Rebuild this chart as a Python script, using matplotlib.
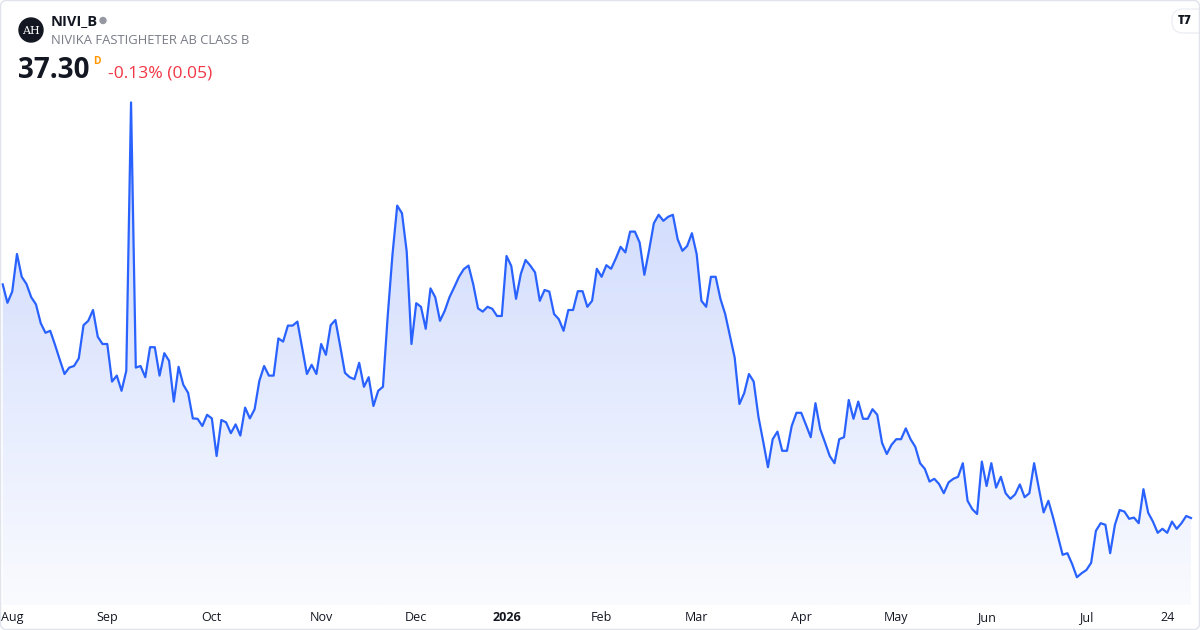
import numpy as np
import pandas as pd
import matplotlib
matplotlib.use('Agg')
import matplotlib.pyplot as plt
from matplotlib.colors import LinearSegmentedColormap
from matplotlib.patches import Polygon, FancyBboxPatch, Circle
from matplotlib.transforms import IdentityTransform, ScaledTranslation

plt.rcParams['font.family'] = ['Open Sans', 'DejaVu Sans']

ticker = 'NIVI_B'
company = 'NIVIKA FASTIGHETER AB CLASS B'
last_price = '37.30'
change_text = '-0.13% (0.05)'

# Stockholm exchange holidays in the window
holidays = ['2025-12-24', '2025-12-25', '2025-12-26', '2025-12-31', '2026-01-01',
            '2026-01-06', '2026-04-03', '2026-04-06', '2026-05-01', '2026-05-14',
            '2026-06-19']

# daily close (31 Jul 2025 .. 31 Jul 2026)
prices = [
    43.14, 42.68, 42.96, 43.90, 43.33, 43.15, 42.82, 42.64, 42.17, 41.93,
    41.98, 41.63, 41.26, 40.90, 41.06, 41.10, 41.29, 42.12, 42.23, 42.50,
    41.83, 41.65, 41.65, 40.71, 40.86, 40.48, 40.98, 47.69, 41.06, 41.10,
    40.82, 41.57, 41.57, 40.86, 41.42, 41.23, 40.21, 41.08, 40.63, 40.43,
    39.79, 39.78, 39.60, 39.88, 39.79, 38.85, 39.75, 39.69, 39.42, 39.64,
    39.36, 40.06, 39.79, 40.02, 40.73, 41.10, 40.86, 40.86, 41.79, 41.71,
    42.11, 42.11, 42.21, 41.55, 40.90, 41.13, 40.90, 41.65, 41.38, 42.12,
    42.25, 41.60, 40.93, 40.82, 40.77, 41.18, 40.58, 40.82, 40.10, 40.48,
    40.58, 42.35, 43.88, 45.11, 44.92, 43.96, 41.65, 42.67, 42.58, 42.03,
    43.04, 42.82, 42.23, 42.48, 42.82, 43.07, 43.33, 43.52, 43.61, 43.14,
    42.54, 42.46, 42.58, 42.53, 42.35, 42.35, 43.85, 43.60, 42.78, 43.40,
    43.75, 43.61, 43.44, 42.73, 43.00, 42.96, 42.40, 42.27, 41.98, 42.50,
    42.50, 42.97, 42.97, 42.58, 42.73, 43.53, 43.33, 43.62, 43.53, 43.79,
    44.08, 43.94, 44.46, 44.46, 44.19, 43.38, 44.00, 44.67, 44.88, 44.73,
    44.83, 44.88, 44.27, 43.98, 44.10, 44.42, 43.90, 42.73, 42.58, 43.33,
    43.33, 42.78, 42.40, 41.85, 41.31, 40.15, 40.42, 40.90, 40.71, 39.83,
    39.21, 38.57, 39.27, 39.46, 38.98, 38.98, 39.60, 39.93, 39.93, 39.63,
    39.32, 40.17, 39.52, 39.19, 38.85, 38.67, 39.27, 39.32, 40.25, 39.78,
    40.21, 39.78, 39.78, 40.02, 39.88, 39.18, 38.90, 39.13, 39.27, 39.27,
    39.54, 39.27, 39.08, 38.67, 38.53, 38.21, 38.28, 38.15, 37.92, 38.19,
    38.28, 38.33, 38.67, 37.73, 37.52, 37.40, 38.71, 38.10, 38.67, 38.06,
    38.33, 37.92, 37.78, 37.89, 38.14, 37.82, 37.92, 38.67, 38.04, 37.44,
    37.73, 37.31, 36.85, 36.38, 36.42, 36.15, 35.82, 35.92, 36.00, 36.18,
    36.98, 37.17, 37.13, 36.42, 37.13, 37.50, 37.46, 37.28, 37.31, 37.17,
    38.02, 37.43, 37.21, 36.93, 37.03, 36.93, 37.21, 37.03, 37.17, 37.35,
    37.30,
]

days = pd.bdate_range('2025-07-31', periods=len(prices), freq='C', holidays=holidays)
idx = np.arange(len(prices))

# ticks: first trading day of each month, plus 24 Jul
tick_pos = []
tick_lab = []
for i in range(1, len(days)):
    if days[i].month != days[i - 1].month:
        tick_pos.append(i)
        tick_lab.append(str(days[i].year) if days[i].month == 1 else days[i].strftime('%b'))
extra = list(days).index(pd.Timestamp('2026-07-24'))
tick_pos.append(extra)
tick_lab.append('24')

fig = plt.figure(figsize=(12, 6.3), dpi=100)
ax = fig.add_axes([0, 25 / 630, 1, 515 / 630])

ybot, ytop = 35.125, 48.0
xmin, xmax = -0.57, len(prices) - 1 + 1.9

# gradient area under the line
cmap = LinearSegmentedColormap.from_list('area', ['#fafbff', '#c8d5fd'])
grad = np.linspace(0, 1, 256).reshape(-1, 1)
im = ax.imshow(grad, extent=[xmin, xmax, ybot, max(prices)], origin='lower',
               aspect='auto', cmap=cmap, zorder=1)
verts = np.column_stack([idx, prices])
verts = np.vstack([[idx[0], ybot], verts, [idx[-1], ybot]])
clip = Polygon(verts, closed=True, facecolor='none', edgecolor='none')
ax.add_patch(clip)
im.set_clip_path(clip)

ax.plot(idx, prices, color='#2962ff', lw=1.6, zorder=3, solid_joinstyle='round')

ax.set_xlim(xmin, xmax)
ax.set_ylim(ybot, ytop)
for s in ax.spines.values():
    s.set_visible(False)
ax.set_yticks([])
ax.set_xticks(tick_pos)
ax.set_xticklabels(tick_lab)
ax.tick_params(axis='x', length=0, pad=4.5, labelsize=9, labelcolor='#131722')
for t in ax.get_xticklabels():
    if t.get_text() == '2026':
        t.set_fontweight('bold')
first = ax.get_xticklabels()[0]
first.set_horizontalalignment('left')
first.set_transform(first.get_transform() + ScaledTranslation(-6 / 100, 0, fig.dpi_scale_trans))

# header
ident = IdentityTransform()
H = 630


def px(x, y):
    return x / 1200, 1 - y / H


fig.add_artist(Circle((31, H - 30), 12, transform=ident, color='#131722', zorder=5))
fig.text(*px(31, 30.5), 'AH', color='white', fontsize=8, family='DejaVu Serif',
         ha='center', va='center', zorder=6)
fig.text(*px(51, 21), ticker, fontsize=10.5, fontweight='bold', color='#131722', va='center')
fig.add_artist(Circle((103, H - 20.5), 3, transform=ident, color='#9598a1'))
fig.text(*px(51, 40), company, fontsize=9.4, color='#787b86', va='center')
fig.text(*px(18, 71), last_price, fontsize=20, fontweight='bold', color='#131722', va='center')
fig.text(*px(93, 61), 'D', fontsize=7.5, fontweight='bold', color='#ff9800', va='center')
fig.text(*px(108, 74), change_text, fontsize=12.6, color='#f23645', va='center')

# tradingview badge
fig.add_artist(FancyBboxPatch((1172, H - 33), 40, 24, boxstyle='round,pad=0,rounding_size=11',
                              transform=ident, facecolor='white', edgecolor='#e9ebf0', lw=0.8))
fig.text(*px(1185, 21), 'T7', fontsize=8.5, fontweight='heavy', color='#131722',
         ha='center', va='center')

# card border
fig.add_artist(FancyBboxPatch((0.5, 0.5), 1199, 629, boxstyle='round,pad=0,rounding_size=6',
                              transform=ident, facecolor='none', edgecolor='#e0e3eb', lw=1))

fig.savefig('out.png', dpi=100)
